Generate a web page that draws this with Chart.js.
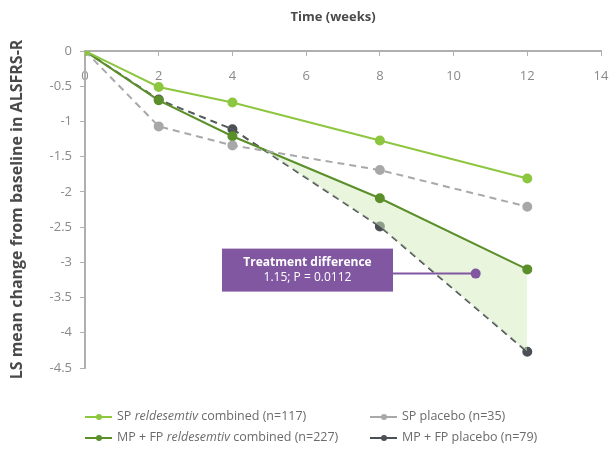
<!DOCTYPE html>
<html>
<head>
<meta charset="utf-8">
<script src="https://cdn.jsdelivr.net/npm/chart.js@4.4.0/dist/chart.umd.min.js"></script>
<style>
  body { margin: 0; background: #fff; font-family: "Open Sans", sans-serif; }
  #wrap { position: relative; width: 613px; height: 449px; }
  .leg { position: absolute; font-size: 12.5px; color: #6b6b6b; white-space: nowrap; line-height: 14px; }
  .leg .mk { display: inline-block; position: relative; width: 27px; height: 10px; vertical-align: middle; margin-right: 5px; }
  .leg .mk::before { content: ""; position: absolute; left: 0; right: 0; top: 4px; height: 2px; background: var(--c); }
  .leg .mk::after { content: ""; position: absolute; left: 11px; top: 2px; width: 6px; height: 6px; border-radius: 50%; background: var(--c); }
</style>
</head>
<body>
<div id="wrap">
  <canvas id="grafico" width="613" height="449"></canvas>
  <div class="leg" style="left:85px; top:409px;"><span class="mk" style="--c:#8dc63f"></span>SP <i>reldesemtiv</i> combined (n=117)</div>
  <div class="leg" style="left:85px; top:430px;"><span class="mk" style="--c:#5b8f2a"></span>MP + FP <i>reldesemtiv</i> combined (n=227)</div>
  <div class="leg" style="left:370px; top:409px;"><span class="mk" style="--c:#a8a8a8"></span>SP placebo (n=35)</div>
  <div class="leg" style="left:370px; top:430px;"><span class="mk" style="--c:#4b5056"></span>MP + FP placebo (n=79)</div>
</div>
<script>
// semanas y valores
const semanas = [0, 2, 4, 8, 12];
const spReldes = [0, -0.51, -0.73, -1.27, -1.81];
const spPlacebo = [0, -1.07, -1.34, -1.69, -2.21];
const mpReldes = [0, -0.70, -1.21, -2.09, -3.10];
const mpPlacebo = [0, -0.69, -1.11, -2.49, -4.27];
const etiquetas = ['SP reldesemtiv combined (n=117)', 'SP placebo (n=35)',
    'MP + FP reldesemtiv combined (n=227)', 'MP + FP placebo (n=79)'];
const notaPunto = [10.6, -3.16]; // punto morado de la anotacion
const notaTexto = ['Treatment difference', '1.15; P = 0.0112'];
const tituloX = 'Time (weeks)';

function puntos(valores) {
    return semanas.map((s, i) => ({ x: s, y: valores[i] }));
}

const colores = ['#8dc63f', '#a8a8a8', '#5b8f2a', '#4b5056'];
const morado = '#8157a1';

// titulo del eje x y caja de la anotacion
const extras = {
    id: 'extras',
    afterDraw(chart) {
        const ctx = chart.ctx;
        ctx.save();
        ctx.fillStyle = '#4a4a4a';
        ctx.font = 'bold 13px "Open Sans"';
        ctx.textAlign = 'center';
        ctx.textBaseline = 'middle';
        ctx.fillText(tituloX, 333, 17);
        ctx.restore();
    },
    afterDatasetsDraw(chart) {
        const ctx = chart.ctx;
        const xs = chart.scales.x, ys = chart.scales.y;
        const px = xs.getPixelForValue(notaPunto[0]);
        const py = ys.getPixelForValue(notaPunto[1]);
        const x0 = 222, x1 = 393, y0 = py - 25, y1 = py + 18;
        ctx.save();
        ctx.strokeStyle = morado;
        ctx.lineWidth = 2;
        ctx.beginPath();
        ctx.moveTo(x1, py);
        ctx.lineTo(px, py);
        ctx.stroke();
        ctx.fillStyle = morado;
        ctx.beginPath();
        ctx.arc(px, py, 5, 0, Math.PI * 2);
        ctx.fill();
        ctx.fillRect(x0, y0, x1 - x0, y1 - y0);
        ctx.fillStyle = '#fff';
        ctx.textAlign = 'center';
        ctx.textBaseline = 'middle';
        ctx.font = 'bold 12px "Open Sans"';
        ctx.fillText(notaTexto[0], (x0 + x1) / 2, y0 + 14);
        ctx.font = '12px "Open Sans"';
        ctx.fillText(notaTexto[1], (x0 + x1) / 2, y0 + 29);
        ctx.restore();
    }
};

function serie(i, valores, discontinua) {
    return {
        label: etiquetas[i],
        data: puntos(valores),
        borderColor: colores[i],
        backgroundColor: colores[i],
        pointBackgroundColor: colores[i],
        pointBorderColor: colores[i],
        borderWidth: 2,
        pointRadius: 4,
        borderDash: discontinua ? [7, 5] : [],
        fill: false,
        tension: 0
    };
}

const dsMp = serie(2, mpReldes, false);
dsMp.fill = { target: 3, above: 'rgba(214, 236, 190, 0.5)', below: 'rgba(0,0,0,0)' };

const myChart = new Chart(document.getElementById('grafico').getContext('2d'), {
    type: 'line',
    data: {
        datasets: [
            serie(0, spReldes, false),
            serie(1, spPlacebo, true),
            dsMp,
            serie(3, mpPlacebo, true)
        ]
    },
    options: {
        responsive: false,
        animation: false,
        layout: { padding: { left: 0, right: 12, top: 51, bottom: 81 } },
        plugins: {
            legend: { display: false },
            tooltip: { enabled: false }
        },
        scales: {
            x: {
                type: 'linear',
                position: { y: 0 },
                min: 0,
                max: 14,
                ticks: { stepSize: 2, color: '#8a8a8a', font: { family: 'Open Sans', size: 13 }, padding: 13 },
                grid: { display: true, drawOnChartArea: false, drawTicks: true, tickLength: 4, color: '#b0b0b0' },
                border: { color: '#b0b0b0', width: 2 },
                // la separacion de las etiquetas no debe estrechar el area
                afterFit(escala) { escala.paddingRight = 8; escala.paddingLeft = 0; }
            },
            y: {
                min: -4.5,
                max: 0,
                ticks: {
                    stepSize: 0.5, color: '#8a8a8a', font: { family: 'Open Sans', size: 13 }, padding: 8,
                    callback: (v) => String(+v.toFixed(1))
                },
                grid: { display: true, drawOnChartArea: false, drawTicks: true, tickLength: 5, color: '#b0b0b0' },
                border: { color: '#b0b0b0', width: 2 },
                title: {
                    display: true,
                    text: 'LS mean change from baseline in ALSFRS-R',
                    color: '#4a4a4a',
                    font: { family: 'Open Sans', size: 16, weight: 'bold' },
                    padding: { top: 8, bottom: 4 }
                },
                afterFit(escala) { escala.width = 85; }
            }
        }
    },
    plugins: [extras]
});
</script>
</body>
</html>
